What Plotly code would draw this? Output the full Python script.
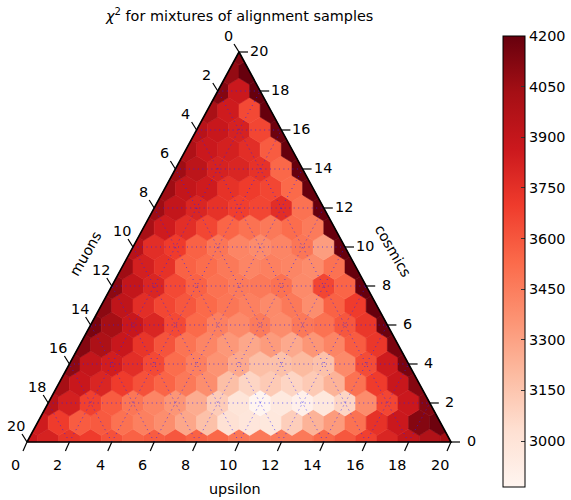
import numpy as np
import plotly.graph_objects as go
from plotly.colors import sample_colorscale, sequential

SCALE = 20
# chi2 values per row of constant "cosmics" (j); index inside a row = "upsilon" (i)
row_j00 = [3880, 3820, 3730, 3700, 3620, 3560, 3580, 3600, 3560, 3540, 3480, 3470, 3460, 3470, 3540, 3600, 3680, 3800, 3900, 3980, 4030]
row_j01 = [3850, 3700, 3580, 3590, 3500, 3440, 3380, 3280, 3170, 3020, 2980, 2970, 3110, 3230, 3330, 3500, 3740, 3870, 4120, 4180]
row_j02 = [3950, 3830, 3680, 3580, 3480, 3420, 3350, 3260, 3120, 2990, 2864, 2960, 2900, 2970, 3080, 3390, 3660, 3870, 4120]
row_j03 = [4030, 3880, 3800, 3700, 3620, 3550, 3470, 3380, 3180, 3080, 3130, 3080, 3130, 3230, 3500, 3700, 3880, 4120]
row_j04 = [4100, 3900, 3840, 3760, 3650, 3520, 3440, 3360, 3270, 3180, 3170, 3200, 3170, 3400, 3640, 3850, 4150]
row_j05 = [4120, 4000, 3880, 3730, 3610, 3490, 3420, 3340, 3280, 3330, 3270, 3350, 3420, 3580, 3720, 4150]
row_j06 = [4150, 4030, 3880, 3800, 3650, 3530, 3440, 3400, 3460, 3390, 3470, 3500, 3600, 3720, 4180]
row_j07 = [4100, 3920, 3760, 3660, 3600, 3530, 3480, 3440, 3400, 3470, 3380, 3560, 3700, 4200]
row_j08 = [4100, 3900, 3800, 3650, 3560, 3500, 3460, 3470, 3500, 3400, 3660, 3550, 4200]
row_j09 = [4050, 3830, 3740, 3560, 3520, 3470, 3420, 3440, 3420, 3390, 3500, 4200]
row_j10 = [3950, 3760, 3700, 3560, 3480, 3420, 3390, 3420, 3480, 3320, 4200]
row_j11 = [4020, 3850, 3760, 3660, 3550, 3500, 3470, 3520, 3460, 4200]
row_j12 = [4050, 3900, 3800, 3740, 3690, 3660, 3760, 3500, 4200]
row_j13 = [4050, 3900, 3850, 3740, 3700, 3660, 3530, 4200]
row_j14 = [4050, 3930, 3820, 3800, 3740, 3540, 4200]
row_j15 = [3990, 3870, 3830, 3760, 3580, 4200]
row_j16 = [3950, 3880, 3820, 3660, 4180]
row_j17 = [4010, 3850, 3650, 4200]
row_j18 = [4120, 3870, 4200]
row_j19 = [4080, 4200]
row_j20 = [4120]

rows = [row_j00, row_j01, row_j02, row_j03, row_j04, row_j05, row_j06, row_j07,
        row_j08, row_j09, row_j10, row_j11, row_j12, row_j13, row_j14, row_j15,
        row_j16, row_j17, row_j18, row_j19, row_j20]

axis_ticks = list(range(0, 21, 2))
cbar_ticks = [3000, 3150, 3300, 3450, 3600, 3750, 3900, 4050, 4200]
VMIN, VMAX = 2864, 4200

title_text = "<i>χ</i><sup>2</sup> for mixtures of alignment samples"
bottom_label = "upsilon"
left_label = "muons"
right_label = "cosmics"

# ---------------------------------------------------------------------------
W, Hpx = 571, 500
H = np.sqrt(3) / 2
PX0, PX1 = 27.0, 451.0   # x pixel of x=0 and x=20
PYB, PYT = 442.0, 52.0   # y pixel of y=0 and y=20*H
sx = (PX1 - PX0) / SCALE
sy = (PYB - PYT) / (SCALE * H)
xr = [-PX0 / sx, (W - PX0) / sx]
yr = [-(Hpx - PYB) / sy, SCALE * H + PYT / sy]

colorscale = [[k / (len(sequential.Reds) - 1), c] for k, c in enumerate(sequential.Reds)]

def cart(i, j):
    return i + j / 2.0, j * H

R = 1 / np.sqrt(3)
hex_off = [(0, R), (0.5, R / 2), (0.5, -R / 2), (0, -R), (-0.5, -R / 2), (-0.5, R / 2)]
s3 = np.sqrt(3)
halfplanes = [lambda p: p[1],
              lambda p: s3 * p[0] - p[1],
              lambda p: s3 * (SCALE - p[0]) - p[1]]

def clip(poly, f):
    out = []
    n = len(poly)
    for a in range(n):
        P, Q = poly[a], poly[(a + 1) % n]
        fp, fq = f(P), f(Q)
        inP, inQ = fp >= -1e-9, fq >= -1e-9
        if inP:
            out.append(P)
        if inP != inQ:
            t = fp / (fp - fq)
            out.append((P[0] + t * (Q[0] - P[0]), P[1] + t * (Q[1] - P[1])))
    return out

fig = go.Figure()
for j, row in enumerate(rows):
    for i, v in enumerate(row):
        cx, cy = cart(i, j)
        poly = [(cx + dx, cy + dy) for dx, dy in hex_off]
        for f in halfplanes:
            poly = clip(poly, f)
        if len(poly) < 3:
            continue
        t = (v - VMIN) / (VMAX - VMIN)
        t = min(max(t, 0), 1)
        col = sample_colorscale(colorscale, [t])[0]
        xs = [p[0] for p in poly] + [poly[0][0]]
        ys = [p[1] for p in poly] + [poly[0][1]]
        fig.add_trace(go.Scatter(x=xs, y=ys, mode="lines", fill="toself",
                                 fillcolor=col, line=dict(color=col, width=0.6),
                                 hoverinfo="skip", showlegend=False))

# gridlines (multiple of 2)
gx, gy = [], []
for m in axis_ticks[1:-1]:
    for (a, b) in [((0, m), (SCALE - m, m)),
                   ((m, 0), (m, SCALE - m)),
                   ((SCALE - m, 0), (0, SCALE - m))]:
        p, q = cart(*a), cart(*b)
        gx += [p[0], q[0], None]
        gy += [p[1], q[1], None]
fig.add_trace(go.Scatter(x=gx, y=gy, mode="lines",
                         line=dict(color="rgba(30,30,255,0.7)", width=1, dash="1px,3.5px"),
                         hoverinfo="skip", showlegend=False))

# boundary
corners = [cart(0, 0), cart(SCALE, 0), cart(0, SCALE), cart(0, 0)]
fig.add_trace(go.Scatter(x=[c[0] for c in corners], y=[c[1] for c in corners], mode="lines",
                         line=dict(color="black", width=1.6), hoverinfo="skip", showlegend=False))

# ticks
tx, ty = [], []
annotations = []
FS = 14.4
font = dict(family="DejaVu Sans", size=FS, color="black")
for v in axis_ticks:
    # bottom (upsilon)
    p = cart(v, 0)
    tx += [p[0], p[0] - 4 / sx, None]; ty += [p[1], p[1] - 9 / sy, None]
    annotations.append(dict(x=p[0], y=p[1], text=str(v), showarrow=False, xshift=-11.5, yshift=-23,
                            font=font, xanchor="center", yanchor="middle"))
    # left (muons): value v at k=v
    p = cart(0, SCALE - v)
    tx += [p[0], p[0] - 5 / sx, None]; ty += [p[1], p[1] + 8 / sy, None]
    annotations.append(dict(x=p[0], y=p[1], text=str(v), showarrow=False, xshift=-11, yshift=16,
                            font=font, xanchor="center", yanchor="middle"))
    # right (cosmics): value v at j=v
    p = cart(SCALE - v, v)
    tx += [p[0], p[0] + 9 / sx, None]; ty += [p[1], p[1], None]
    annotations.append(dict(x=p[0], y=p[1], text=str(v), showarrow=False, xshift=20, yshift=1,
                            font=font, xanchor="center", yanchor="middle"))
fig.add_trace(go.Scatter(x=tx, y=ty, mode="lines", line=dict(color="black", width=1.2),
                         hoverinfo="skip", showlegend=False, cliponaxis=False))

# colorbar carrier
c0 = cart(1, 1)
fig.add_trace(go.Scatter(x=[c0[0]], y=[c0[1]], mode="markers", hoverinfo="skip", showlegend=False,
                         marker=dict(size=0.1, opacity=0, color=[VMIN], cmin=VMIN, cmax=VMAX,
                                     colorscale=colorscale, showscale=True,
                                     colorbar=dict(x=503 / W, xanchor="left", xpad=0, ypad=0,
                                                   y=1 - 261.5 / Hpx, yanchor="middle",
                                                   lenmode="pixels", len=451,
                                                   thicknessmode="pixels", thickness=22,
                                                   outlinewidth=1, outlinecolor="black",
                                                   tickvals=cbar_ticks, ticks="inside",
                                                   ticklen=4, tickcolor="#333",
                                                   tickfont=font))))

annotations += [
    dict(x=239 / W, y=1 - 15 / Hpx, xref="paper", yref="paper", text=title_text, showarrow=False,
         font=font, xanchor="center", yanchor="middle"),
    dict(x=234.5 / W, y=1 - 489 / Hpx, xref="paper", yref="paper", text=bottom_label, showarrow=False,
         font=font, xanchor="center", yanchor="middle"),
    dict(x=86 / W, y=1 - 253 / Hpx, xref="paper", yref="paper", text=left_label, showarrow=False,
         font=font, xanchor="center", yanchor="middle", textangle=-60),
    dict(x=393 / W, y=1 - 251 / Hpx, xref="paper", yref="paper", text=right_label, showarrow=False,
         font=font, xanchor="center", yanchor="middle", textangle=60),
]

fig.update_layout(width=W, height=Hpx, margin=dict(l=0, r=0, t=0, b=0),
                  paper_bgcolor="white", plot_bgcolor="white",
                  xaxis=dict(range=xr, visible=False, fixedrange=True),
                  yaxis=dict(range=yr, visible=False, fixedrange=True),
                  annotations=annotations, font=font, showlegend=False)
fig.write_html("out.html")
